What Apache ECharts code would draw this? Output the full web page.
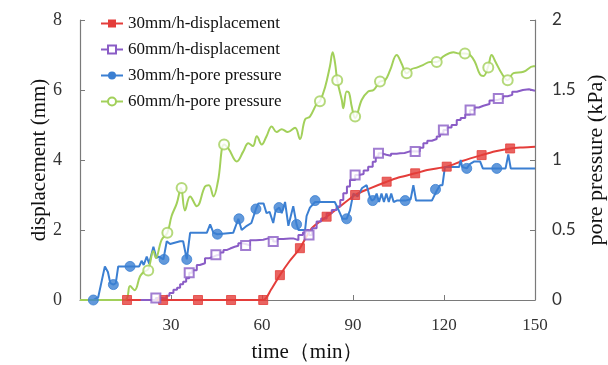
<!DOCTYPE html>
<html>
<head>
<meta charset="utf-8">
<script src="https://cdn.jsdelivr.net/npm/echarts@6/dist/echarts.min.js"></script>
<style>
  html, body { margin: 0; padding: 0; background: #fff; }
  #chart { width: 608px; height: 365px; }
</style>
</head>
<body>
<div id="chart"></div>
<script>
// series names (legend order)
const names = ['30mm/h-displacement', '60mm/h-displacement', '30mm/h-pore pressure', '60mm/h-pore pressure'];

// 30mm/h displacement, [time min, mm]
const disp_30 = [[5,0],[15.5,0],[27.4,0],[38.9,0],[49.8,0],[60.4,0],[63,0.3],[65.9,0.71],[69,1.1],[72.5,1.48],
  [76.4,2.05],[81.3,2.38],[85.7,2.67],[90.7,3.0],[95.6,3.19],[101.1,3.38],[105,3.5],[110.5,3.62],[115,3.72],
  [120.9,3.81],[126,3.97],[132.4,4.14],[137,4.25],[141.8,4.33],[146,4.36],[150,4.38]];
const disp_30_marks = [[15.5,0],[27.4,0],[38.9,0],[49.8,0],[60.4,0],[65.9,0.71],[72.5,1.48],[81.3,2.38],
  [90.7,3.0],[101.1,3.38],[110.5,3.62],[120.9,3.81],[132.4,4.14],[141.8,4.33]];

// 60mm/h displacement, [time min, mm]
const disp_60 = [[20,0],[25,0.06],[27,0.04],[28.5,0.12],[29.5,0.2],[30.8,0.29],[32,0.35],[33,0.45],[34,0.52],
  [35,0.62],[36,0.78],[37,0.85],[38.5,1.0],[39.5,1.05],[41.2,1.19],[42.5,1.22],[43.5,1.27],[44.8,1.29],[46,1.36],
  [47.3,1.43],[48.5,1.47],[49.5,1.52],[51,1.55],[52.2,1.62],[53.5,1.6],[54.6,1.56],[56,1.71],[58,1.72],[60.4,1.76],
  [62,1.74],[63.7,1.67],[65,1.74],[67,1.76],[69.2,1.76],[70.3,1.71],[72,1.86],[73.5,1.93],[74.7,2.0],[75.5,1.86],
  [76.5,2.05],[78,2.24],[79.5,2.33],[81.3,2.48],[83,2.57],[84.6,2.67],[85.8,2.86],[86.8,3.05],[88,3.24],[89,3.43],
  [90.7,3.57],[92,3.6],[93.5,3.7],[95,3.81],[96.5,3.95],[97.5,4.1],[98.4,4.19],[99.5,4.15],[101,4.12],[102.5,4.18],
  [104.4,4.19],[105.5,4.2],[107,4.24],[108.5,4.25],[110.5,4.24],[112,4.35],[113.2,4.48],[114.5,4.55],[116,4.6],
  [117.6,4.67],[118.7,4.76],[119.8,4.86],[121,4.93],[122.5,5.0],[124.2,5.14],[125.5,5.2],[127,5.3],[128.6,5.43],
  [130,5.5],[131.5,5.55],[133,5.6],[135,5.7],[136.5,5.72],[137.9,5.76],[139.5,5.82],[141,5.86],[142.5,5.95],
  [144,6.0],[146,6.02],[148,5.98],[150,5.97]];
const disp_60_marks = [[25,0.06],[36,0.78],[44.8,1.29],[54.6,1.56],[63.7,1.67],[75.5,1.86],[90.7,3.57],
  [98.4,4.19],[110.5,4.24],[119.8,4.86],[128.6,5.43],[137.9,5.76]];

// 30mm/h pore pressure, [time min, kPa]
const pore_30 = [[0,0],[4.4,0],[6,0.02],[7.2,0.14],[8.2,0.24],[9.2,0.2],[10,0.12],[11,0.11],[11.8,0.12],[12.6,0.24],
  [16.5,0.24],[19.5,0.24],[20.3,0.28],[21,0.25],[22,0.31],[22.8,0.26],[24.2,0.38],[25.2,0.3],[26,0.31],[27.5,0.29],
  [28.6,0.42],[29.7,0.4],[33,0.42],[34,0.42],[35.2,0.29],[36.3,0.48],[41.8,0.48],[42.9,0.54],[44,0.48],[45.3,0.47],
  [50.5,0.48],[51.7,0.55],[52.2,0.58],[53.3,0.5],[55,0.53],[56.5,0.55],[58,0.65],[58.8,0.69],[60.5,0.69],[61.5,0.62],
  [62.5,0.63],[63.7,0.55],[64.5,0.64],[65.7,0.66],[66.5,0.62],[67.6,0.7],[68.7,0.53],[69.5,0.6],[70.3,0.67],
  [71.4,0.54],[72,0.5],[74.2,0.5],[74.7,0.6],[75.8,0.66],[77.5,0.7],[80,0.7],[82.4,0.7],[84,0.7],[85.7,0.62],
  [86.5,0.58],[87.9,0.58],[89,0.64],[90.1,0.76],[91.5,0.74],[93,0.8],[94.5,0.82],[95.5,0.74],[96.2,0.71],[97,0.72],
  [97.8,0.76],[98.6,0.7],[99.4,0.76],[100.2,0.7],[101,0.76],[101.8,0.7],[102.6,0.76],[103.4,0.7],[104.4,0.71],
  [107.2,0.71],[109,0.72],[109.9,0.82],[110.8,0.71],[116,0.71],[117.6,0.78],[118.7,0.82],[119.5,0.82],[120.3,0.95],
  [125,0.95],[125.5,1.0],[126,0.95],[127.5,0.94],[128.5,0.97],[130,0.99],[131.9,0.99],[132.8,0.94],[137.4,0.94],
  [140.3,0.94],[141.2,1.04],[142,0.94],[150,0.94]];
const pore_30_marks = [[4.4,0],[11,0.11],[16.5,0.24],[27.7,0.29],[35.2,0.29],[45.3,0.47],[52.4,0.58],[58,0.65],
  [65.6,0.66],[71.4,0.54],[77.5,0.71],[87.9,0.58],[96.5,0.71],[107.2,0.71],[117.2,0.79],[127.5,0.94],[137.4,0.94]];

// 60mm/h pore pressure, [time min, kPa]
const pore_60 = [[0,0],[14.8,0],[16.5,0.1],[18,0.07],[19.8,0.17],[21,0.2],[22.5,0.22],[24.2,0.35],[25,0.3],
  [26.9,0.43],[28.8,0.48],[30.2,0.6],[31.9,0.69],[33.3,0.8],[34.6,0.64],[36.3,0.74],[38.5,0.67],[41.2,0.81],
  [42.5,0.82],[44,0.74],[45.5,0.85],[47.5,1.11],[49,1.08],[51.7,0.99],[53.8,1.06],[55.5,1.12],[57,1.1],[58.3,1.17],
  [59.9,1.11],[61.5,1.17],[63.2,1.24],[64.8,1.2],[66.5,1.22],[68.5,1.2],[70.9,1.23],[72.5,1.15],[74.2,1.29],
  [75.8,1.31],[78,1.4],[79.1,1.42],[80.8,1.52],[82.4,1.67],[83.3,1.77],[84.1,1.69],[84.8,1.57],[86.3,1.43],
  [86.8,1.37],[87.9,1.49],[88.7,1.48],[89.6,1.38],[90.7,1.3],[92.9,1.43],[95,1.49],[96.8,1.5],[98.9,1.56],
  [100.6,1.57],[102.2,1.64],[104.4,1.75],[106,1.69],[107.7,1.62],[109.4,1.65],[111,1.66],[113.2,1.68],[115.4,1.7],
  [117.6,1.7],[119.8,1.74],[123.1,1.77],[125,1.76],[126.9,1.76],[128.6,1.75],[130.2,1.7],[131.9,1.61],[133,1.6],
  [134.6,1.67],[135.7,1.75],[137,1.7],[139,1.62],[141,1.57],[142.9,1.62],[146.2,1.63],[149.5,1.67],[150,1.67]];
const pore_60_marks = [[22.5,0.21],[28.8,0.48],[33.5,0.8],[47.5,1.11],[79.1,1.42],[84.8,1.57],[90.7,1.31],
  [98.9,1.56],[107.7,1.62],[117.6,1.7],[126.9,1.76],[134.6,1.66],[141,1.57]];

const colors = ['#e43d3a', '#8a5cc6', '#3b7fd2', '#a2d05a'];
const serif = '"Liberation Serif", "Times New Roman", serif';

let myChart = echarts.init(document.getElementById('chart'), null, { renderer: 'canvas' });

function line_series(i, data, axis, symbol, extra) {
  return Object.assign({
    name: names[i],
    type: 'line',
    yAxisIndex: axis,
    data: data,
    symbol: symbol,
    showSymbol: false,
    color: colors[i],
    lineStyle: { width: 2, color: colors[i] },
    z: 2
  }, extra || {});
}

function mark_series(i, data, axis, symbol, size) {
  return {
    name: names[i] + ' marks',
    type: 'scatter',
    yAxisIndex: axis,
    data: data,
    symbol: symbol,
    symbolSize: size,
    itemStyle: { color: colors[i], borderColor: colors[i], borderWidth: 1 },
    z: 3,
    silent: true
  };
}

let option = {
  animation: false,
  backgroundColor: '#fff',
  grid: { left: 80, right: 73, top: 20, bottom: 65, outerBoundsMode: 'none' },
  legend: {
    data: names,
    orient: 'vertical',
    left: 95,
    top: 10,
    itemWidth: 22,
    itemHeight: 10,
    itemGap: 9,
    textStyle: { fontFamily: serif, fontSize: 17, color: '#111' }
  },
  xAxis: {
    type: 'value',
    min: 0,
    max: 150,
    interval: 30,
    name: 'time（min）',
    nameLocation: 'middle',
    nameGap: 42,
    nameMoveOverlap: false,
    nameTextStyle: { fontFamily: serif, fontSize: 21, color: '#111' },
    axisLine: { lineStyle: { color: '#7a7a7a', width: 1.2 } },
    axisTick: { inside: true, length: 5, lineStyle: { color: '#7a7a7a' } },
    axisLabel: {
      fontFamily: serif, fontSize: 17, color: '#333', margin: 17,
      formatter: (v) => v === 0 ? '' : String(v)
    },
    splitLine: { show: false }
  },
  yAxis: [
    {
      type: 'value',
      min: 0,
      max: 8,
      interval: 2,
      name: 'displacement (mm)',
      nameLocation: 'middle',
      nameRotate: 90,
      nameGap: 30,
      nameMoveOverlap: false,
      nameTextStyle: { fontFamily: serif, fontSize: 21, color: '#111' },
      axisLine: { show: true, lineStyle: { color: '#7a7a7a', width: 1.2 } },
      axisTick: { show: true, inside: true, length: 5, lineStyle: { color: '#7a7a7a' } },
      axisLabel: { fontFamily: serif, fontSize: 18, color: '#333', margin: 18 },
      splitLine: { show: false }
    },
    {
      type: 'value',
      min: 0,
      max: 2,
      interval: 0.5,
      position: 'right',
      name: 'pore pressure (kPa)',
      nameLocation: 'middle',
      nameRotate: 90,
      nameGap: 50,
      nameMoveOverlap: false,
      nameTextStyle: { fontFamily: serif, fontSize: 22, color: '#111' },
      axisLine: { show: true, lineStyle: { color: '#7a7a7a', width: 1.2 } },
      axisTick: { show: true, inside: true, length: 5, lineStyle: { color: '#7a7a7a' } },
      axisLabel: { fontFamily: 'Lato, "Liberation Sans", sans-serif', fontSize: 17, color: '#333', margin: 17 },
      splitLine: { show: false }
    }
  ],
  series: [
    line_series(0, disp_30, 0, 'rect', { smooth: 0.3 }),
    line_series(1, disp_60, 0, 'emptyRect', { step: 'end' }),
    line_series(2, pore_30, 1, 'circle'),
    line_series(3, pore_60, 1, 'emptyCircle', { smooth: 0.4 }),
    mark_series(0, disp_30_marks, 0, 'rect', 9),
    mark_series(1, disp_60_marks, 0, 'emptyRect', 9),
    mark_series(2, pore_30_marks, 1, 'circle', 10),
    mark_series(3, pore_60_marks, 1, 'emptyCircle', 10)
  ]
};

myChart.setOption(option);

window.addEventListener('resize', function() {
  myChart.resize();
});
</script>
</body>
</html>
